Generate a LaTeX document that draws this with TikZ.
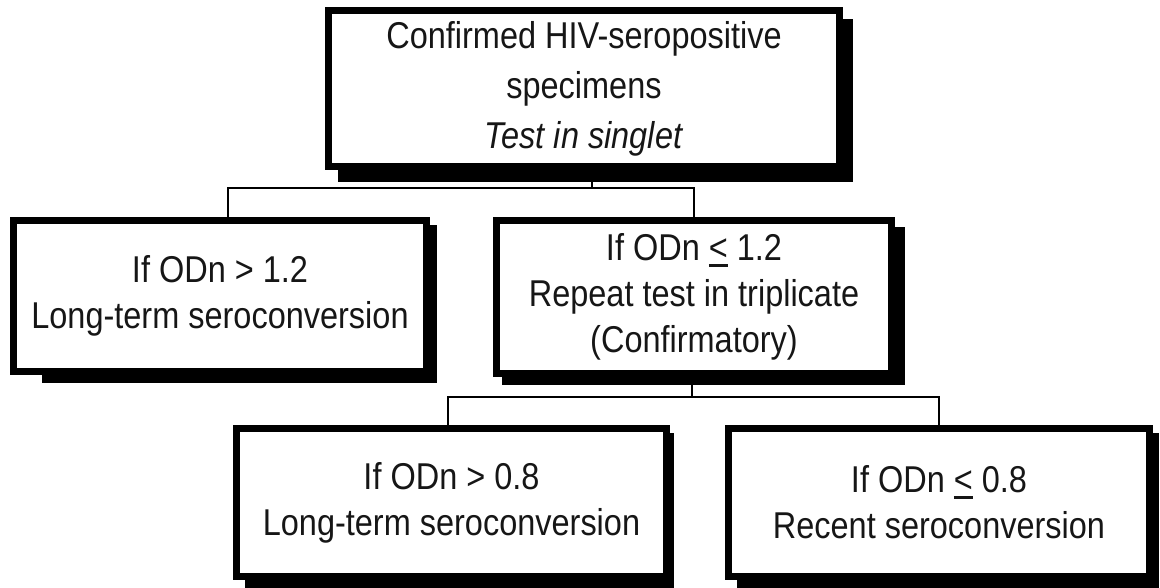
\documentclass[tikz,border=0pt]{standalone}
\usepackage{fontspec}
\setmainfont{Liberation Sans}[FakeStretch=0.87]
\usetikzlibrary{calc,backgrounds}
\definecolor{ink}{RGB}{22,22,22}
% "<" with a bar underneath, used for "less than or equal"
\newcommand\ulless{\begingroup\setbox0\hbox{<}\rlap{\raisebox{-0.17em}{\rule{\wd0}{0.08em}}}\box0\endgroup}

\begin{document}
\begin{tikzpicture}[x=0.75pt,y=-0.75pt,
  box/.style={draw=black, line width=5.25pt, fill=white, align=center,
    inner sep=0pt, text=ink, font=\fontsize{28}{34.5}\selectfont},
  shadowfill/.style={fill=black},
  conn/.style={draw=black, line width=2pt}]

% boxes (outer edges in pixel units)
\node[box, font=\fontsize{28}{37.5}\selectfont,
      minimum width=511*0.75pt, minimum height=156*0.75pt]
  (top) at (584,88.5) {Confirmed HIV-seropositive\\ specimens\\ \textit{Test in singlet}};
\node[box, minimum width=413*0.75pt, minimum height=151*0.75pt]
  (L) at (220,296) {If ODn > 1.2\\ Long-term seroconversion};
\node[box, minimum width=395*0.75pt, minimum height=153*0.75pt]
  (M) at (694,297) {If ODn \ulless{} 1.2\\ Repeat test in triplicate\\ (Confirmatory)};
\node[box, minimum width=430*0.75pt, minimum height=148*0.75pt]
  (BL) at (451.5,502.5) {If ODn > 0.8\\ Long-term seroconversion};
\node[box, minimum width=421*0.75pt, minimum height=148*0.75pt]
  (BR) at (939,502.5) {If ODn \ulless{} 0.8\\ Recent seroconversion};

% solid offset shadows behind each box
\begin{scope}[on background layer]
  \fill[white] (0,0) rectangle (1160,588);
  \fill[shadowfill] ([shift={(13,12)}]top.north west) rectangle ([shift={(10,12)}]top.south east);
  \fill[shadowfill] ([shift={(32,8)}]L.north west) rectangle ([shift={(7,8)}]L.south east);
  \fill[shadowfill] ([shift={(9,10)}]M.north west) rectangle ([shift={(10,8)}]M.south east);
  \fill[shadowfill] ([shift={(12,8)}]BL.north west) rectangle ([shift={(4,8)}]BL.south east);
  \fill[shadowfill] ([shift={(12,8)}]BR.north west) rectangle ([shift={(6,8)}]BR.south east);
\end{scope}

% branch junctions
\coordinate (j1) at (592,188);
\coordinate (j2) at (692,397);

% connectors
\draw[conn] ([xshift=6pt]top.south) -- (j1);
\draw[conn] ([xshift=6pt]L.north) |- (j1) -| (M.north);
\draw[conn] ([xshift=-1.5pt]M.south) -- (j2);
\draw[conn] ([xshift=-2.6pt]BL.north) |- (j2) -| (BR.north);

\useasboundingbox (0,0) rectangle (1160,588);
\end{tikzpicture}
\end{document}
